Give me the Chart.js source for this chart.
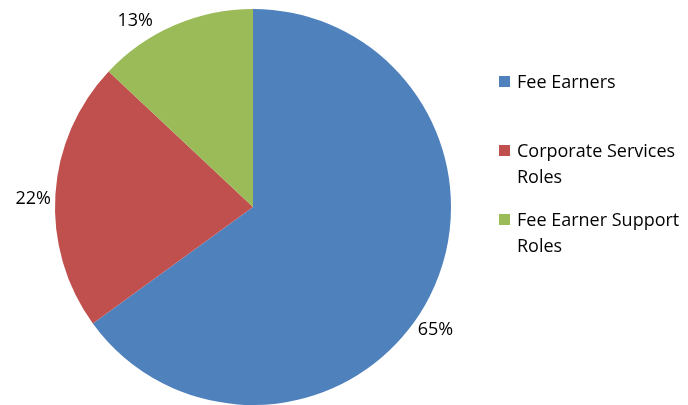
<!DOCTYPE html>
<html>
<head>
<meta charset="utf-8">
<script src="https://cdn.jsdelivr.net/npm/chart.js@4/dist/chart.umd.min.js"></script>
<style>
  html, body { margin: 0; padding: 0; background: #fff; }
  #wrap { width: 688px; height: 405px; position: relative; }
</style>
</head>
<body>
<div id="wrap"><canvas id="Staff-Pie"></canvas></div>
<script>
const categories = ['Fee Earners', 'Corporate Services Roles', 'Fee Earner Support Roles'];
const legendLines = [['Fee Earners'], ['Corporate Services', 'Roles'], ['Fee Earner Support', 'Roles']];
const values = [65, 22, 13];
const valueLabels = ['65%', '22%', '13%'];
const colors = ['#4F81BD', '#C0504D', '#9BBB59'];

const FONT = '"Open Sans", sans-serif';

// label placement tweaks (degrees / px), like Excel's best fit
const labelShift = [7, -1.6, -9];
const labelDist = 22;

const labelsPlugin = {
  id: 'outsideLabels',
  afterDraw(chart) {
    const ctx = chart.ctx;
    const meta = chart.getDatasetMeta(0);
    ctx.save();
    ctx.font = '18px ' + FONT;
    ctx.fillStyle = '#000';
    ctx.textAlign = 'center';
    ctx.textBaseline = 'middle';
    meta.data.forEach((arc, i) => {
      const a = (arc.startAngle + arc.endAngle) / 2 + labelShift[i] * Math.PI / 180;
      const r = arc.outerRadius + labelDist;
      ctx.fillText(valueLabels[i], arc.x + Math.cos(a) * r, arc.y + Math.sin(a) * r);
    });

    // legend
    ctx.textAlign = 'left';
    ctx.textBaseline = 'alphabetic';
    ctx.font = '18px ' + FONT;
    const baselines = [88, 157, 226];
    legendLines.forEach((lines, i) => {
      ctx.fillStyle = colors[i];
      ctx.fillRect(499, baselines[i] - 12, 11, 11);
      ctx.fillStyle = '#000';
      lines.forEach((ln, j) => {
        ctx.fillText(ln, 517, baselines[i] + j * 26);
      });
    });
    ctx.restore();
  }
};

const staffPie = new Chart(document.getElementById('Staff-Pie').getContext('2d'), {
  type: 'pie',
  data: {
    labels: categories,
    datasets: [{
      data: values,
      backgroundColor: colors,
      borderWidth: 0
    }]
  },
  options: {
    responsive: true,
    maintainAspectRatio: false,
    animation: false,
    layout: {
      padding: { top: 9, bottom: 0, left: 55, right: 237 }
    },
    plugins: {
      legend: { display: false },
      tooltip: { enabled: false }
    }
  },
  plugins: [labelsPlugin]
});
</script>
</body>
</html>
